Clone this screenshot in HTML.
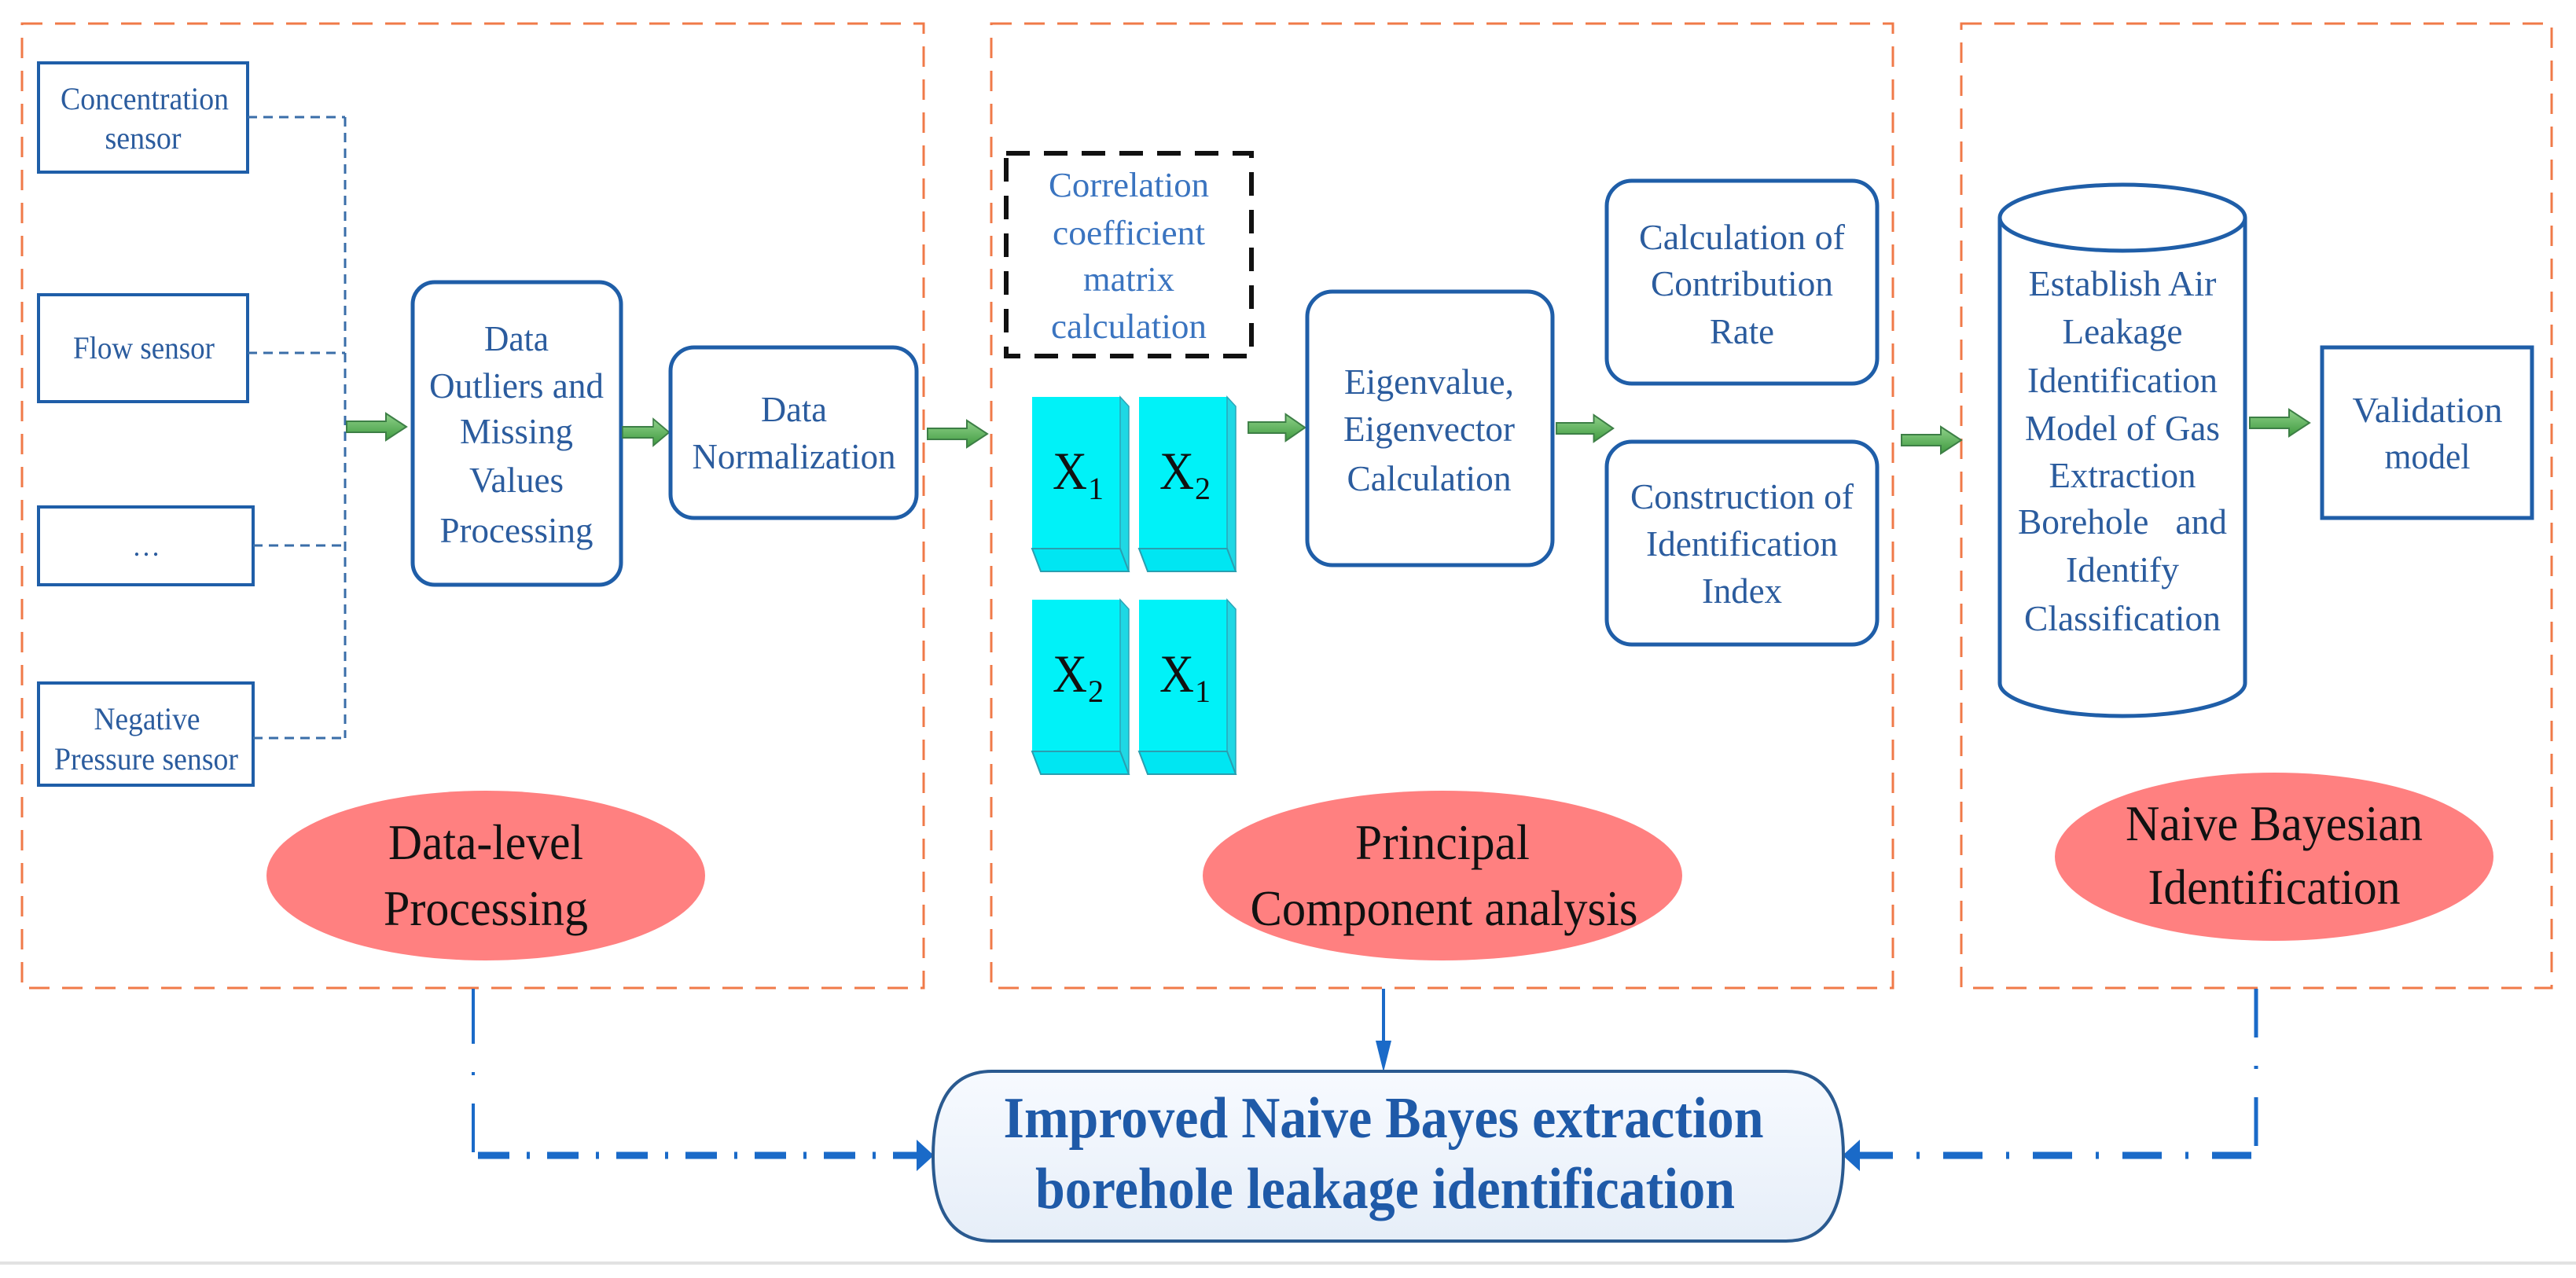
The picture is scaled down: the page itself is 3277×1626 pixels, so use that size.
<!DOCTYPE html>
<html><head><meta charset="utf-8"><style>
html,body{margin:0;padding:0;background:#fff;}
svg{display:block;}
.b{font-family:"Liberation Serif",serif;fill:#2b5c9e;}
.k{font-family:"Liberation Serif",serif;fill:#111;}
</style></head><body>
<svg width="3277" height="1626" viewBox="0 0 3277 1626" xmlns="http://www.w3.org/2000/svg">
<defs>
<linearGradient id="ga" x1="0" y1="0" x2="0" y2="1">
<stop offset="0" stop-color="#8fd18a"/><stop offset="1" stop-color="#3f9a3f"/></linearGradient>
<linearGradient id="gb" x1="0" y1="0" x2="0" y2="1">
<stop offset="0" stop-color="#f7faff"/><stop offset="1" stop-color="#e6eef8"/></linearGradient>
<g id="arr"><polygon points="0,-7 50,-7 50,-17 76,0 50,17 50,7 0,7" fill="url(#ga)" stroke="#3d7f46" stroke-width="2"/></g>
</defs>
<rect width="3277" height="1626" fill="#fff"/>
<rect x="0" y="1605" width="3277" height="4" fill="#e2e2e2"/>

<!-- orange dashed groups -->
<g fill="none" stroke="#f07a48" stroke-width="3" stroke-dasharray="26 16">
<rect x="28" y="30" width="1147" height="1227"/>
<rect x="1261" y="30" width="1147" height="1227"/>
<rect x="2495" y="30" width="751" height="1227"/>
</g>

<!-- sensors -->
<g fill="#fff" stroke="#1f5ea8" stroke-width="4">
<rect x="49" y="80" width="266" height="139"/>
<rect x="49" y="375" width="266" height="136"/>
<rect x="49" y="645" width="273" height="99"/>
<rect x="49" y="869" width="273" height="130"/>
</g>
<text class="b" x="184" y="139" font-size="40" text-anchor="middle" textLength="214" lengthAdjust="spacingAndGlyphs">Concentration</text>
<text class="b" x="182" y="189" font-size="40" text-anchor="middle" textLength="97" lengthAdjust="spacingAndGlyphs">sensor</text>
<text class="b" x="183" y="456" font-size="40" text-anchor="middle" textLength="180" lengthAdjust="spacingAndGlyphs">Flow sensor</text>
<text class="b" x="186" y="707" font-size="36" text-anchor="middle">…</text>
<text class="b" x="187" y="928" font-size="40" text-anchor="middle" textLength="135" lengthAdjust="spacingAndGlyphs">Negative</text>
<text class="b" x="186" y="979" font-size="40" text-anchor="middle" textLength="234" lengthAdjust="spacingAndGlyphs">Pressure sensor</text>

<g fill="none" stroke="#3a6ea8" stroke-width="3" stroke-dasharray="12 8">
<path d="M315,149 H439 M315,449 H439 M322,694 H439 M322,939 H439 M439,149 V939"/>
</g>
<use href="#arr" x="441" y="543"/>

<rect x="525" y="359" width="265" height="385" rx="28" fill="#fff" stroke="#1f5ea8" stroke-width="5"/>
<g class="b" font-size="46" text-anchor="middle">
<text x="657" y="446" textLength="82" lengthAdjust="spacingAndGlyphs">Data</text>
<text x="657" y="506" textLength="222" lengthAdjust="spacingAndGlyphs">Outliers and</text>
<text x="657" y="564" textLength="144" lengthAdjust="spacingAndGlyphs">Missing</text>
<text x="657" y="626" textLength="120" lengthAdjust="spacingAndGlyphs">Values</text>
<text x="657" y="690" textLength="195" lengthAdjust="spacingAndGlyphs">Processing</text>
</g>
<use href="#arr" x="792" y="550" transform="translate(792 550) scale(0.78 1) translate(-792 -550)"/>
<rect x="853" y="442" width="313" height="217" rx="30" fill="#fff" stroke="#1f5ea8" stroke-width="5"/>
<g class="b" font-size="46" text-anchor="middle">
<text x="1010" y="536" textLength="84" lengthAdjust="spacingAndGlyphs">Data</text>
<text x="1010" y="596" textLength="259" lengthAdjust="spacingAndGlyphs">Normalization</text>
</g>
<use href="#arr" x="1180" y="552"/>

<!-- PCA group -->
<rect x="1280" y="195" width="312" height="258" fill="#fff" stroke="#111" stroke-width="6" stroke-dasharray="30 18"/>
<g class="b" font-size="44" text-anchor="middle" style="fill:#3a74c0">
<text x="1436" y="250" textLength="204" lengthAdjust="spacingAndGlyphs">Correlation</text>
<text x="1436" y="311" textLength="194" lengthAdjust="spacingAndGlyphs">coefficient</text>
<text x="1436" y="370" textLength="116" lengthAdjust="spacingAndGlyphs">matrix</text>
<text x="1436" y="430" textLength="198" lengthAdjust="spacingAndGlyphs">calculation</text>
</g>
<g id="cube">
<rect x="1313" y="505" width="112" height="193" fill="#00f2f8"/>
<polygon points="1425,505 1436,517 1436,727 1425,698" fill="#1fd8e4" stroke="#2aa6b8" stroke-width="1.5"/>
<polygon points="1313,698 1425,698 1436,727 1324,727" fill="#00e6f2" stroke="#2a9fb0" stroke-width="2"/>
</g>
<use href="#cube" x="136" y="0"/>
<use href="#cube" x="0" y="258"/>
<use href="#cube" x="136" y="258"/>
<g class="k" font-size="68">
<text x="1339" y="622" textLength="44" lengthAdjust="spacingAndGlyphs">X</text><text x="1384" y="635" font-size="40">1</text>
<text x="1475" y="622" textLength="44" lengthAdjust="spacingAndGlyphs">X</text><text x="1520" y="635" font-size="40">2</text>
<text x="1339" y="880" textLength="44" lengthAdjust="spacingAndGlyphs">X</text><text x="1384" y="893" font-size="40">2</text>
<text x="1475" y="880" textLength="44" lengthAdjust="spacingAndGlyphs">X</text><text x="1520" y="893" font-size="40">1</text>
</g>
<use href="#arr" x="1588" y="544" transform="translate(1588 544) scale(0.95 1) translate(-1588 -544)"/>
<rect x="1663" y="371" width="312" height="348" rx="32" fill="#fff" stroke="#1f5ea8" stroke-width="5"/>
<g class="b" font-size="46" text-anchor="middle">
<text x="1818" y="501" textLength="216" lengthAdjust="spacingAndGlyphs">Eigenvalue,</text>
<text x="1818" y="561" textLength="218" lengthAdjust="spacingAndGlyphs">Eigenvector</text>
<text x="1818" y="624" textLength="209" lengthAdjust="spacingAndGlyphs">Calculation</text>
</g>
<use href="#arr" x="1980" y="545" transform="translate(1980 545) scale(0.95 1) translate(-1980 -545)"/>
<rect x="2044" y="230" width="344" height="258" rx="32" fill="#fff" stroke="#1f5ea8" stroke-width="5"/>
<rect x="2044" y="562" width="344" height="258" rx="32" fill="#fff" stroke="#1f5ea8" stroke-width="5"/>
<g class="b" font-size="46" text-anchor="middle">
<text x="2216" y="317" textLength="262" lengthAdjust="spacingAndGlyphs">Calculation of</text>
<text x="2216" y="376" textLength="232" lengthAdjust="spacingAndGlyphs">Contribution</text>
<text x="2216" y="437" textLength="82" lengthAdjust="spacingAndGlyphs">Rate</text>
<text x="2216" y="647" textLength="284" lengthAdjust="spacingAndGlyphs">Construction of</text>
<text x="2216" y="707" textLength="244" lengthAdjust="spacingAndGlyphs">Identification</text>
<text x="2216" y="767" textLength="102" lengthAdjust="spacingAndGlyphs">Index</text>
</g>
<use href="#arr" x="2419" y="560"/>

<!-- cylinder -->
<path d="M2544,277 V869 A156,42 0 0 0 2856,869 V277" fill="#fff" stroke="#1f5ea8" stroke-width="5"/>
<ellipse cx="2700" cy="277" rx="156" ry="42" fill="#fff" stroke="#1f5ea8" stroke-width="5"/>
<g class="b" font-size="46" text-anchor="middle">
<text x="2700" y="376" textLength="239" lengthAdjust="spacingAndGlyphs">Establish Air</text>
<text x="2700" y="437" textLength="153" lengthAdjust="spacingAndGlyphs">Leakage</text>
<text x="2700" y="499" textLength="242" lengthAdjust="spacingAndGlyphs">Identification</text>
<text x="2700" y="560" textLength="248" lengthAdjust="spacingAndGlyphs">Model of Gas</text>
<text x="2700" y="620" textLength="187" lengthAdjust="spacingAndGlyphs">Extraction</text>
<text x="2700" y="679" textLength="266" lengthAdjust="spacingAndGlyphs" xml:space="preserve">Borehole   and</text>
<text x="2700" y="740" textLength="144" lengthAdjust="spacingAndGlyphs">Identify</text>
<text x="2700" y="802" textLength="250" lengthAdjust="spacingAndGlyphs">Classification</text>
</g>
<use href="#arr" x="2862" y="538"/>
<rect x="2954" y="442" width="267" height="217" fill="#fff" stroke="#1f5ea8" stroke-width="5"/>
<g class="b" font-size="46" text-anchor="middle">
<text x="3088" y="537" textLength="191" lengthAdjust="spacingAndGlyphs">Validation</text>
<text x="3088" y="596" textLength="109" lengthAdjust="spacingAndGlyphs">model</text>
</g>

<!-- pink ellipses -->
<g fill="#ff8080">
<ellipse cx="618" cy="1114" rx="279" ry="108"/>
<ellipse cx="1835" cy="1114" rx="305" ry="108"/>
<ellipse cx="2893" cy="1090" rx="279" ry="107"/>
</g>
<g class="k" font-size="64" text-anchor="middle">
<text x="618" y="1093" textLength="248" lengthAdjust="spacingAndGlyphs">Data-level</text>
<text x="618" y="1177" textLength="260" lengthAdjust="spacingAndGlyphs">Processing</text>
<text x="1835" y="1093" textLength="222" lengthAdjust="spacingAndGlyphs">Principal</text>
<text x="1837" y="1177" textLength="493" lengthAdjust="spacingAndGlyphs">Component analysis</text>
<text x="2893" y="1069" textLength="378" lengthAdjust="spacingAndGlyphs">Naive Bayesian</text>
<text x="2893" y="1150" textLength="321" lengthAdjust="spacingAndGlyphs">Identification</text>
</g>

<!-- bottom connectors -->
<g fill="none" stroke="#1a6ac8">
<path d="M602,1258 V1466" stroke-width="4" stroke-dasharray="70 36 4 36"/>
<path d="M2870,1258 V1466" stroke-width="5" stroke-dasharray="62 36 4 36"/>
<path d="M608,1470 H1168" stroke-width="9" stroke-dasharray="40 22 4 22"/>
<path d="M2864,1470 H2364" stroke-width="9" stroke-dasharray="50 30 4 30"/>
<path d="M1760,1258 V1330" stroke-width="4"/>
</g>
<g fill="#1a6ac8">
<polygon points="1750,1324 1770,1324 1760,1364"/>
<polygon points="1166,1450 1188,1470 1166,1490"/>
<polygon points="2366,1450 2344,1470 2366,1490"/>
</g>
<path d="M1262,1363 H2272 Q2345,1363 2345,1471 Q2345,1579 2272,1579 H1262 Q1187,1579 1187,1471 Q1187,1363 1262,1363 Z" fill="url(#gb)" stroke="#2a5a90" stroke-width="4"/>
<g font-family="Liberation Serif,serif" font-weight="bold" fill="#1f5aa8" font-size="74" text-anchor="middle">
<text x="1760" y="1447" textLength="967" lengthAdjust="spacingAndGlyphs">Improved Naive Bayes extraction</text>
<text x="1762" y="1537" textLength="890" lengthAdjust="spacingAndGlyphs">borehole leakage identification</text>
</g>
</svg>
</body></html>
